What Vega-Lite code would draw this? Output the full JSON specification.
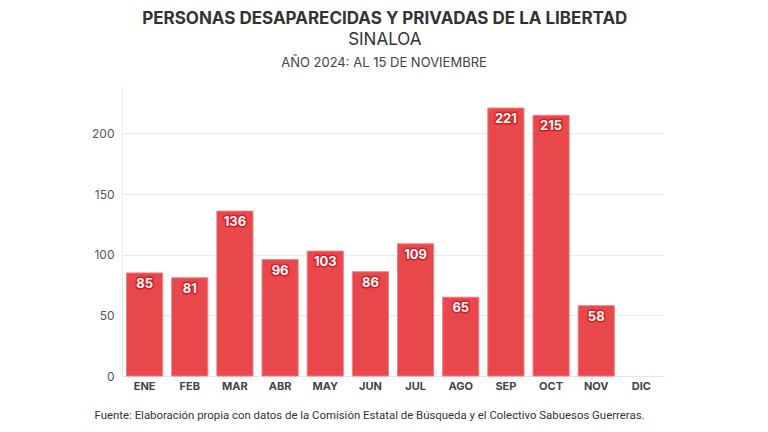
{
  "$schema": "https://vega.github.io/schema/vega-lite/v6.json",
  "background": "white",
  "padding": {"left": 91, "top": 10, "right": 10, "bottom": 5},
  "title": {
    "text": "PERSONAS DESAPARECIDAS Y PRIVADAS DE LA LIBERTAD",
    "subtitle": "SINALOA",
    "font": "Inter",
    "fontSize": 17,
    "fontWeight": "bold",
    "color": "#333333",
    "subtitleFont": "Inter",
    "subtitleFontSize": 17,
    "subtitleColor": "#333333",
    "subtitlePadding": 4,
    "anchor": "middle",
    "dx": 7,
    "offset": 8
  },
  "config": {"view": {"stroke": null}, "font": "Inter"},
  "data": {
    "values": [
      {"mes": "ENE", "valor": 85},
      {"mes": "FEB", "valor": 81},
      {"mes": "MAR", "valor": 136},
      {"mes": "ABR", "valor": 96},
      {"mes": "MAY", "valor": 103},
      {"mes": "JUN", "valor": 86},
      {"mes": "JUL", "valor": 109},
      {"mes": "AGO", "valor": 65},
      {"mes": "SEP", "valor": 221},
      {"mes": "OCT", "valor": 215},
      {"mes": "NOV", "valor": 58}
    ]
  },
  "vconcat": [
    {
      "width": 542,
      "height": 291,
      "title": {
        "text": "AÑO 2024: AL 15 DE NOVIEMBRE",
        "font": "Inter",
        "fontSize": 13,
        "fontWeight": "normal",
        "color": "#444444",
        "anchor": "middle",
        "dx": -9,
        "offset": 15
      },
      "encoding": {
        "x": {
          "field": "mes",
          "type": "nominal",
          "sort": null,
          "scale": {
            "domain": ["ENE","FEB","MAR","ABR","MAY","JUN","JUL","AGO","SEP","OCT","NOV","DIC"],
            "paddingInner": 0.2,
            "paddingOuter": 0.1
          },
          "axis": {
            "labelAngle": 0,
            "labelFont": "Inter",
            "labelFontWeight": "bold",
            "labelFontSize": 11,
            "labelColor": "#444444",
            "labelPadding": 4,
            "ticks": false,
            "domainColor": "#e6e6e6",
            "title": "Fuente: Elaboración propia con datos de la Comisión Estatal de Búsqueda y el Colectivo Sabuesos Guerreras.",
            "titleFont": "Roboto",
            "titleFontSize": 11.4,
            "titleFontWeight": "normal",
            "titleColor": "#333333",
            "titleAnchor": "start",
            "titleAlign": "left",
            "titleX": -28,
            "titlePadding": 18
          }
        },
        "y": {
          "field": "valor",
          "type": "quantitative",
          "scale": {"domain": [0, 240], "nice": false},
          "axis": {
            "values": [0, 50, 100, 150, 200],
            "title": null,
            "ticks": false,
            "labelFont": "Inter",
            "labelFontSize": 12,
            "labelColor": "#555555",
            "labelPadding": 8,
            "gridColor": "#ebebeb",
            "domainColor": "#ebebeb"
          }
        }
      },
      "layer": [
        {
          "mark": {"type": "bar", "color": "#e8474b", "stroke": "#f27e80", "strokeWidth": 1}
        },
        {
          "mark": {"type": "text", "baseline": "middle", "dy": 11, "fontSize": 13, "fontWeight": "bold", "font": "Inter", "stroke": "#d81e25", "strokeWidth": 3, "strokeJoin": "round", "fill": "#d81e25"},
          "encoding": {"text": {"field": "valor", "type": "quantitative"}}
        },
        {
          "mark": {"type": "text", "baseline": "middle", "dy": 11, "fontSize": 13, "fontWeight": "bold", "font": "Inter", "fill": "white"},
          "encoding": {"text": {"field": "valor", "type": "quantitative"}}
        }
      ]
    }
  ]
}
